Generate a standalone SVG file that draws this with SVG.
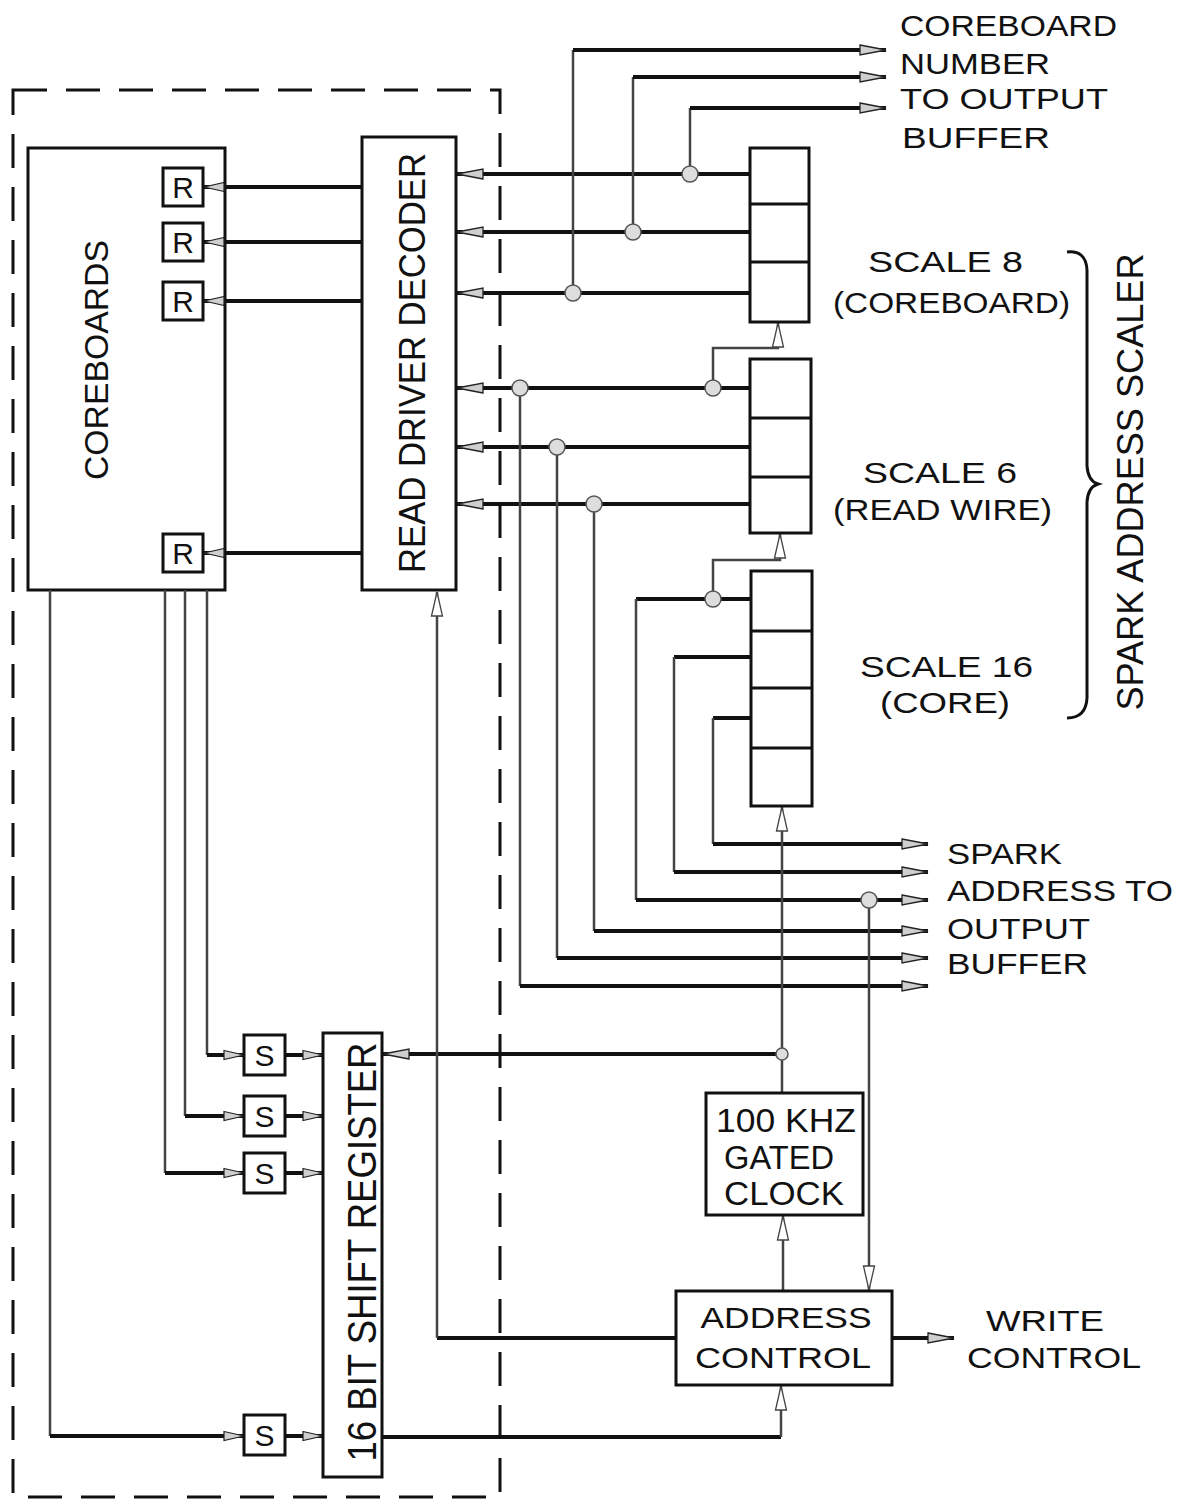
<svg xmlns="http://www.w3.org/2000/svg" width="1185" height="1501" viewBox="0 0 1185 1501">
<style>
.box{fill:#fff;stroke:#111;stroke-width:3}
.frame{fill:none;stroke:#111;stroke-width:3}
.cell{stroke:#111;stroke-width:3;fill:none}
.thick{stroke:#111;stroke-width:4;fill:none}
.thin{stroke:#444;stroke-width:2.5;fill:none}
.jn{fill:#ddd;stroke:#555;stroke-width:1.5}
.dash{fill:none;stroke:#111;stroke-width:3;stroke-dasharray:34 19}
text{font-family:"Liberation Sans",Arial,sans-serif;fill:#111}
.lbl{font-size:30px}
.big{font-size:34px}
</style>
<defs>
<marker id="ah" viewBox="0 0 28 14" markerWidth="28" markerHeight="14" refX="27" refY="7" orient="auto" markerUnits="userSpaceOnUse"><path d="M1,2 L27,7 L1,12 Z" fill="#cfcfcf" stroke="#222" stroke-width="1.3"/></marker>
<marker id="ahs" viewBox="0 0 22 12" markerWidth="22" markerHeight="12" refX="21" refY="6" orient="auto" markerUnits="userSpaceOnUse"><path d="M1,1.5 L21,6 L1,10.5 Z" fill="#cfcfcf" stroke="#222" stroke-width="1.2"/></marker>
<marker id="aho" viewBox="0 0 26 14" markerWidth="26" markerHeight="14" refX="25" refY="7" orient="auto" markerUnits="userSpaceOnUse"><path d="M1,1.5 L25,7 L1,12.5 Z" fill="#fff" stroke="#444" stroke-width="1.3"/></marker>
</defs>
<rect width="1185" height="1501" fill="#fff"/>

<rect id="boundary" class="dash" x="13" y="90" width="487" height="1407"/>

<g id="coreboards">
<rect class="frame" x="28" y="148" width="197" height="442"/>
<text class="big" transform="translate(108,360) rotate(-90)" text-anchor="middle" textLength="240" lengthAdjust="spacingAndGlyphs">COREBOARDS</text>
</g>

<g id="connectors">
<!-- RDD to R -->
<path class="thick" d="M362,187 H204" marker-end="url(#ahs)"/>
<path class="thick" d="M362,242 H204" marker-end="url(#ahs)"/>
<path class="thick" d="M362,301 H204" marker-end="url(#ahs)"/>
<path class="thick" d="M362,553 H204" marker-end="url(#ahs)"/>
<!-- scale 8 to RDD -->
<path class="thick" d="M750,174 H457" marker-end="url(#ah)"/>
<path class="thick" d="M750,232 H457" marker-end="url(#ah)"/>
<path class="thick" d="M750,293 H457" marker-end="url(#ah)"/>
<!-- coreboard number outputs -->
<path class="thin" d="M690,174 V108"/><path class="thick" d="M690,108 H886" marker-end="url(#ah)"/>
<path class="thin" d="M633,232 V77"/><path class="thick" d="M633,77 H886" marker-end="url(#ah)"/>
<path class="thin" d="M573,293 V50"/><path class="thick" d="M573,50 H886" marker-end="url(#ah)"/>
<!-- scale 6 to RDD -->
<path class="thick" d="M750,388 H457" marker-end="url(#ah)"/>
<path class="thick" d="M750,447 H457" marker-end="url(#ah)"/>
<path class="thick" d="M750,504 H457" marker-end="url(#ah)"/>
<!-- carries -->
<path class="thin" d="M713,388 V348 H778 V323" marker-end="url(#aho)"/>
<path class="thin" d="M713,599 V560 H780 V534" marker-end="url(#aho)"/>
<!-- scale 16 outputs -->
<path class="thick" d="M751,599 H636"/>
<path class="thick" d="M751,657 H674"/>
<path class="thick" d="M751,718 H713"/>
<path class="thin" d="M636,599 V900"/>
<path class="thin" d="M674,657 V872"/>
<path class="thin" d="M713,718 V844"/>
<path class="thin" d="M520,388 V986"/>
<path class="thin" d="M557,447 V958"/>
<path class="thin" d="M594,504 V931"/>
<path class="thick" d="M713,844 H928" marker-end="url(#ah)"/>
<path class="thick" d="M674,872 H928" marker-end="url(#ah)"/>
<path class="thick" d="M636,900 H928" marker-end="url(#ah)"/>
<path class="thick" d="M594,931 H928" marker-end="url(#ah)"/>
<path class="thick" d="M557,958 H928" marker-end="url(#ah)"/>
<path class="thick" d="M520,986 H928" marker-end="url(#ah)"/>
<!-- clock / control -->
<path class="thin" d="M782,1093 V807" marker-end="url(#aho)"/>
<path class="thin" d="M869,900 V1290" marker-end="url(#aho)"/>
<path class="thin" d="M783,1291 V1216" marker-end="url(#aho)"/>
<path class="thick" d="M782,1054 H383" marker-end="url(#ah)"/>
<path class="thick" d="M676,1338 H437"/>
<path class="thin" d="M437,1338 V592" marker-end="url(#aho)"/>
<path class="thick" d="M892,1338 H954" marker-end="url(#ah)"/>
<path class="thick" d="M382,1437 H781"/>
<path class="thin" d="M781,1437 V1386" marker-end="url(#aho)"/>
<!-- coreboards to S -->
<path class="thin" d="M50,590 V1436"/><path class="thick" d="M50,1436 H244" marker-end="url(#ahs)"/>
<path class="thin" d="M165,590 V1173"/><path class="thick" d="M165,1173 H244" marker-end="url(#ahs)"/>
<path class="thin" d="M185,590 V1116"/><path class="thick" d="M185,1116 H244" marker-end="url(#ahs)"/>
<path class="thin" d="M207,590 V1055"/><path class="thick" d="M207,1055 H244" marker-end="url(#ahs)"/>
<path class="thick" d="M285,1055 H323" marker-end="url(#ahs)"/>
<path class="thick" d="M285,1116 H323" marker-end="url(#ahs)"/>
<path class="thick" d="M285,1173 H323" marker-end="url(#ahs)"/>
<path class="thick" d="M285,1436 H323" marker-end="url(#ahs)"/>
<!-- junctions -->
<circle class="jn" cx="690" cy="174" r="8"/>
<circle class="jn" cx="633" cy="232" r="8"/>
<circle class="jn" cx="573" cy="293" r="8"/>
<circle class="jn" cx="713" cy="388" r="8"/>
<circle class="jn" cx="520" cy="388" r="8"/>
<circle class="jn" cx="557" cy="447" r="8"/>
<circle class="jn" cx="594" cy="504" r="8"/>
<circle class="jn" cx="713" cy="599" r="8"/>
<circle class="jn" cx="869" cy="900" r="8"/>
<circle class="jn" cx="782" cy="1054" r="6"/>
</g>

<g id="r1"><rect class="box" x="163" y="168" width="40" height="38"/><text class="lbl" x="183" y="198" text-anchor="middle">R</text></g>
<g id="r2"><rect class="box" x="163" y="223" width="40" height="38"/><text class="lbl" x="183" y="253" text-anchor="middle">R</text></g>
<g id="r3"><rect class="box" x="163" y="282" width="40" height="38"/><text class="lbl" x="183" y="312" text-anchor="middle">R</text></g>
<g id="r4"><rect class="box" x="163" y="534" width="40" height="38"/><text class="lbl" x="183" y="564" text-anchor="middle">R</text></g>

<g id="read-driver-decoder">
<rect class="box" x="362" y="137" width="94" height="453"/>
<text transform="translate(425,363) rotate(-90)" font-size="36" text-anchor="middle" textLength="420" lengthAdjust="spacingAndGlyphs">READ DRIVER DECODER</text>
</g>

<g id="scale8">
<rect class="box" x="750" y="148" width="59" height="174"/>
<path class="cell" d="M750,204 H809 M750,262 H809"/>
</g>
<g id="scale6">
<rect class="box" x="750" y="359" width="61" height="174"/>
<path class="cell" d="M750,418 H811 M750,477 H811"/>
</g>
<g id="scale16">
<rect class="box" x="751" y="571" width="61" height="235"/>
<path class="cell" d="M751,631 H812 M751,688 H812 M751,748 H812"/>
</g>

<g id="scaler-labels">
<text class="lbl" x="868" y="272" textLength="155" lengthAdjust="spacingAndGlyphs">SCALE 8</text>
<text class="lbl" x="833" y="313" textLength="237" lengthAdjust="spacingAndGlyphs">(COREBOARD)</text>
<text class="lbl" x="863" y="483" textLength="154" lengthAdjust="spacingAndGlyphs">SCALE 6</text>
<text class="lbl" x="833" y="520" textLength="219" lengthAdjust="spacingAndGlyphs">(READ WIRE)</text>
<text class="lbl" x="860" y="677" textLength="173" lengthAdjust="spacingAndGlyphs">SCALE 16</text>
<text class="lbl" x="880" y="713" textLength="130" lengthAdjust="spacingAndGlyphs">(CORE)</text>
<path d="M1067,252 Q1086,250 1087,270 L1087,466 Q1088,481 1098,484 Q1088,487 1087,502 L1087,698 Q1086,718 1067,718" fill="none" stroke="#111" stroke-width="3"/>
<text transform="translate(1143,482) rotate(-90)" font-size="36" text-anchor="middle" textLength="457" lengthAdjust="spacingAndGlyphs">SPARK ADDRESS SCALER</text>
</g>

<g id="coreboard-number-label">
<text class="lbl" x="900" y="36" textLength="217" lengthAdjust="spacingAndGlyphs">COREBOARD</text>
<text class="lbl" x="900" y="74" textLength="150" lengthAdjust="spacingAndGlyphs">NUMBER</text>
<text class="lbl" x="900" y="109" textLength="208" lengthAdjust="spacingAndGlyphs">TO OUTPUT</text>
<text class="lbl" x="902" y="148" textLength="148" lengthAdjust="spacingAndGlyphs">BUFFER</text>
</g>

<g id="spark-address-label">
<text class="lbl" x="947" y="864" textLength="115" lengthAdjust="spacingAndGlyphs">SPARK</text>
<text class="lbl" x="947" y="901" textLength="226" lengthAdjust="spacingAndGlyphs">ADDRESS TO</text>
<text class="lbl" x="947" y="939" textLength="143" lengthAdjust="spacingAndGlyphs">OUTPUT</text>
<text class="lbl" x="947" y="974" textLength="141" lengthAdjust="spacingAndGlyphs">BUFFER</text>
</g>

<g id="s1"><rect class="box" x="244" y="1035" width="41" height="40"/><text class="lbl" x="264.5" y="1066" text-anchor="middle">S</text></g>
<g id="s2"><rect class="box" x="244" y="1096" width="41" height="40"/><text class="lbl" x="264.5" y="1127" text-anchor="middle">S</text></g>
<g id="s3"><rect class="box" x="244" y="1153" width="41" height="40"/><text class="lbl" x="264.5" y="1184" text-anchor="middle">S</text></g>
<g id="s4"><rect class="box" x="244" y="1415" width="41" height="40"/><text class="lbl" x="264.5" y="1446" text-anchor="middle">S</text></g>

<g id="shift-register">
<rect class="box" x="323" y="1033" width="59" height="444"/>
<text transform="translate(376,1252) rotate(-90)" font-size="40" text-anchor="middle" textLength="419" lengthAdjust="spacingAndGlyphs">16 BIT SHIFT REGISTER</text>
</g>

<g id="clock">
<rect class="box" x="706" y="1093" width="157" height="122"/>
<text class="big" x="786" y="1132" text-anchor="middle" textLength="140" lengthAdjust="spacingAndGlyphs">100 KHZ</text>
<text class="big" x="779" y="1169" text-anchor="middle" textLength="110" lengthAdjust="spacingAndGlyphs">GATED</text>
<text class="big" x="784" y="1205" text-anchor="middle" textLength="120" lengthAdjust="spacingAndGlyphs">CLOCK</text>
</g>

<g id="address-control">
<rect class="box" x="676" y="1291" width="216" height="94"/>
<text class="lbl" x="786" y="1328" text-anchor="middle" textLength="171" lengthAdjust="spacingAndGlyphs">ADDRESS</text>
<text class="lbl" x="783" y="1368" text-anchor="middle" textLength="176" lengthAdjust="spacingAndGlyphs">CONTROL</text>
</g>

<g id="write-control-label">
<text class="lbl" x="986" y="1331" textLength="118" lengthAdjust="spacingAndGlyphs">WRITE</text>
<text class="lbl" x="967" y="1368" textLength="174" lengthAdjust="spacingAndGlyphs">CONTROL</text>
</g>
</svg>
